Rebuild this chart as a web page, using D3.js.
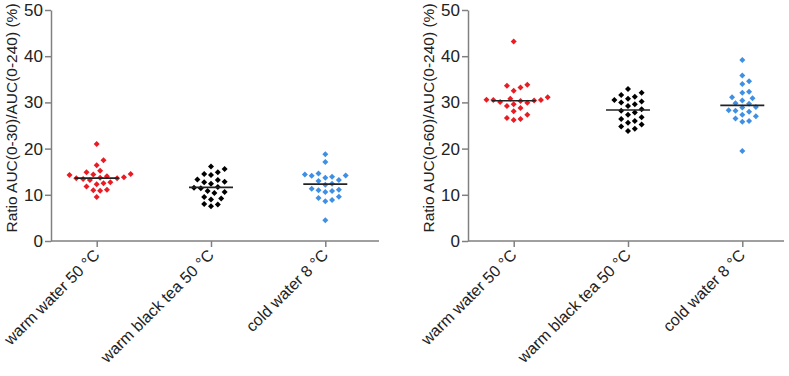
<!DOCTYPE html>
<html>
<head>
<meta charset="utf-8">
<script src="https://cdn.jsdelivr.net/npm/d3@7"></script>
<style>
  body { margin: 0; background: #fff; }
  svg { display: block; }
</style>
</head>
<body>
<div id="chart"></div>
<script>
// ---- data ----
const categories = ["warm water 50 °C", "warm black tea 50 °C", "cold water 8 °C"];
const yTicks = [0, 10, 20, 30, 40, 50];

// Ratio AUC(0-30)/AUC(0-240) (%)
const auc30WarmWater = [21.0, 17.5, 16.4, 15.2, 14.9, 14.5, 14.4, 14.3, 14.0, 13.8, 13.7, 13.6,
  13.6, 13.4, 13.2, 12.7, 12.5, 12.3, 11.8, 11.1, 11.0, 10.9, 9.5];
const auc30BlackTea = [16.1, 15.6, 14.9, 14.5, 14.3, 13.3, 13.2, 12.8, 12.7, 12.4, 11.7, 11.5,
  11.4, 10.8, 10.6, 10.4, 9.5, 9.2, 9.0, 8.0, 7.9, 7.5];
const auc30ColdWater = [18.8, 17.1, 14.6, 14.4, 14.2, 14.1, 13.9, 13.7, 13.2, 13.0, 12.4, 12.2,
  11.3, 11.1, 11.0, 10.8, 10.6, 9.6, 9.3, 8.9, 8.6, 4.5];

// Ratio AUC(0-60)/AUC(0-240) (%)
const auc60WarmWater = [43.2, 33.8, 33.6, 33.2, 32.5, 31.1, 30.8, 30.6, 30.5, 30.5, 30.4,
  30.3, 30.1, 29.9, 29.6, 29.2, 28.8, 28.1, 27.3, 26.6, 26.4, 26.2];
const auc60BlackTea = [32.9, 32.1, 31.6, 31.2, 30.8, 30.5, 30.2, 30.0, 29.6, 29.2, 28.5, 28.2,
  27.8, 27.3, 26.8, 26.4, 26.0, 25.6, 25.2, 24.8, 24.3, 23.8];
const auc60ColdWater = [39.2, 35.8, 34.6, 34.0, 32.3, 32.1, 31.1, 30.9, 30.4, 29.8, 29.7, 29.0,
  28.9, 28.3, 28.2, 28.0, 27.3, 27.0, 26.5, 26.0, 25.8, 19.5];

const groupColors = ["#ea1b23", "#000000", "#3f8fe4"];

const panels = [
  { title: "Ratio AUC(0-30)/AUC(0-240) (%)", x0: 51, axisLen: 328, series: [auc30WarmWater, auc30BlackTea, auc30ColdWater] },
  { title: "Ratio AUC(0-60)/AUC(0-240) (%)", x0: 468, axisLen: 316, series: [auc60WarmWater, auc60BlackTea, auc60ColdWater] }
];

// ---- layout ----
const width = 789, height = 376;
const plotTop = 10, plotBottom = 241;
const pointSpan = 320;
const fontFamily = "Arial, 'Liberation Sans', sans-serif";
const axisColor = "#808080";

const svg = d3.select("#chart").append("svg")
  .attr("width", width)
  .attr("height", height);

const y = d3.scaleLinear().domain([0, 50]).range([plotBottom, plotTop]);

// simple beeswarm: place each point at the nearest free horizontal offset
function swarm(values, cx, step, minDist) {
  const placed = [];
  const sorted = values.slice().sort((a, b) => a - b);
  sorted.forEach(v => {
    const py = y(v);
    for (let k = 0; k < 40; k++) {
      const off = k === 0 ? 0 : (k % 2 ? 1 : -1) * Math.ceil(k / 2) * step;
      const px = cx + off;
      const hit = placed.some(p => Math.hypot(p.x - px, p.y - py) < minDist);
      if (!hit) { placed.push({ x: px, y: py, v: v }); break; }
    }
  });
  return placed;
}

const diamond = d3.symbol().type(d3.symbolSquare).size(18);

panels.forEach(panel => {
  const x = d3.scalePoint()
    .domain(categories)
    .range([panel.x0, panel.x0 + pointSpan])
    .padding(0.4);

  const g = svg.append("g");

  // y axis
  const yAxis = g.append("g")
    .attr("transform", `translate(${panel.x0},0)`)
    .call(d3.axisLeft(y).tickValues(yTicks).tickSize(6).tickSizeOuter(0).tickPadding(2));
  yAxis.select(".domain").attr("stroke", axisColor).attr("stroke-width", 1.5);
  yAxis.selectAll(".tick line").attr("stroke", axisColor).attr("stroke-width", 1.5);
  yAxis.selectAll(".tick text")
    .attr("font-family", fontFamily)
    .attr("font-size", "17px")
    .attr("fill", "#222");

  // x axis
  const xAxis = g.append("g")
    .attr("transform", `translate(0,${plotBottom})`)
    .call(d3.axisBottom(x).tickSize(6).tickSizeOuter(0).tickFormat(""));
  xAxis.select(".domain").remove();
  xAxis.selectAll(".tick line").attr("stroke", axisColor).attr("stroke-width", 1.5);
  xAxis.append("line")
    .attr("x1", panel.x0).attr("x2", panel.x0 + panel.axisLen)
    .attr("stroke", axisColor).attr("stroke-width", 1.5);

  // category labels, rotated
  categories.forEach(c => {
    g.append("text")
      .attr("transform", `translate(${x(c) + 4},${plotBottom + 15}) rotate(-45)`)
      .attr("text-anchor", "end")
      .attr("font-family", fontFamily)
      .attr("font-size", "16px")
      .attr("fill", "#222")
      .text(c);
  });

  // y title
  g.append("text")
    .attr("transform", `translate(${panel.x0 - 34},118) rotate(-90)`)
    .attr("text-anchor", "middle")
    .attr("font-family", fontFamily)
    .attr("font-size", "15.5px")
    .attr("fill", "#222")
    .text(panel.title);

  // points + median lines
  panel.series.forEach((vals, i) => {
    const cx = x(categories[i]);
    const pts = swarm(vals, cx, 3.4, 6.5);
    g.append("g").selectAll("path")
      .data(pts)
      .join("path")
      .attr("d", diamond)
      .attr("transform", d => `translate(${d.x},${d.y}) rotate(45)`)
      .attr("fill", groupColors[i]);

    const med = d3.median(vals);
    g.append("line")
      .attr("x1", cx - 22).attr("x2", cx + 22)
      .attr("y1", y(med)).attr("y2", y(med))
      .attr("stroke", "#222")
      .attr("stroke-width", 1.6);
  });
});
</script>
</body>
</html>
